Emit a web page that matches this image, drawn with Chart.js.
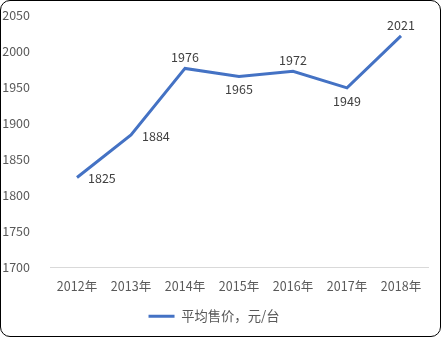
<!DOCTYPE html>
<html>
<head>
<meta charset="utf-8">
<script src="https://cdn.jsdelivr.net/npm/chart.js@4"></script>
<style>
  body { margin: 0; background: #fff; }
  #wrap { position: relative; width: 441px; height: 337px; }
  #frame { position: absolute; left: 0; top: 0; width: 439px; height: 335px;
           border: 1px solid #000; border-radius: 10px; pointer-events: none; }
  canvas { position: absolute; left: 0; top: 0; }
</style>
</head>
<body>
<div id="wrap">
  <canvas id="priceChart" width="441" height="337"></canvas>
  <div id="frame"></div>
</div>
<script>
const years = ['2012年', '2013年', '2014年', '2015年', '2016年', '2017年', '2018年'];
const avgPrice = [1825, 1884, 1976, 1965, 1972, 1949, 2021];
const labelSide = ['right', 'right', 'above', 'below', 'above', 'below', 'above'];
const seriesName = '平均售价，元/台';

const FONT = "'Noto Sans CJK SC', 'Liberation Sans', sans-serif";

// draws the value next to each point, like the Excel data labels
const valueLabels = {
    id: 'valueLabels',
    afterDatasetsDraw(chart) {
        const ctx = chart.ctx;
        const meta = chart.getDatasetMeta(0);
        ctx.save();
        ctx.font = '12.5px ' + FONT;
        ctx.fillStyle = '#404040';
        ctx.textBaseline = 'middle';
        meta.data.forEach((pt, i) => {
            let x = pt.x, y = pt.y;
            ctx.textAlign = 'center';
            if (labelSide[i] == 'right') {
                ctx.textAlign = 'left';
                x += 11;
                y += 1;
            } else if (labelSide[i] == 'above') {
                y -= 11;
            } else {
                y += 13;
            }
            ctx.fillText(avgPrice[i], x, y);
        });
        ctx.restore();
    }
};

const ctx = document.getElementById('priceChart').getContext('2d');
const chart = new Chart(ctx, {
    type: 'line',
    data: {
        labels: years,
        datasets: [{
            label: seriesName,
            data: avgPrice,
            borderColor: '#4472C4',
            backgroundColor: '#4472C4',
            borderWidth: 3,
            pointRadius: 0,
            tension: 0
        }]
    },
    options: {
        responsive: false,
        animation: false,
        layout: { padding: { top: 15, right: 13, left: 0, bottom: 4 } },
        plugins: {
            legend: {
                position: 'bottom',
                labels: {
                    usePointStyle: true,
                    pointStyle: 'line',
                    pointStyleWidth: 26,
                    color: '#595959',
                    font: { family: FONT, size: 13.3 },
                    padding: 13
                }
            },
            tooltip: { enabled: false }
        },
        scales: {
            x: {
                offset: true,
                grid: { display: false },
                border: { display: true, color: '#d9d9d9', width: 1 },
                ticks: { color: '#595959', font: { family: FONT, size: 12.5 }, padding: 3, maxRotation: 0 }
            },
            y: {
                min: 1700,
                max: 2050,
                grid: { display: false },
                border: { display: false },
                ticks: {
                    stepSize: 50,
                    color: '#595959',
                    font: { family: FONT, size: 12.5 },
                    padding: 12,
                    callback: (v) => String(v)
                },
                afterFit(scale) {
                    scale.width = 50;
                    scale.paddingTop = 0;
                }
            }
        }
    },
    plugins: [valueLabels]
});
</script>
</body>
</html>
